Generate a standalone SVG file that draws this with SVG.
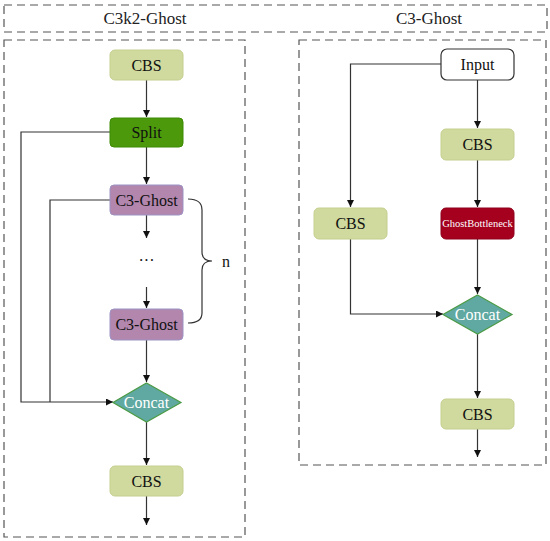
<svg xmlns="http://www.w3.org/2000/svg" width="550" height="541" viewBox="0 0 550 541" font-family="'Liberation Serif', 'Times New Roman', serif">
<style>
.frame{fill:none;stroke:#555;stroke-width:1.2;stroke-dasharray:8 5}
.title{font-size:17px;fill:#222;text-anchor:middle}
.lbl{font-size:16px;fill:#111;text-anchor:middle;dominant-baseline:central}
.wl{fill:#fff}
.cbs{fill:#d0da9e;stroke:#c4cf8e;stroke-width:1}
.split{fill:#4c9a0c;stroke:#3d8a05;stroke-width:1}
.c3{fill:#b386ae;stroke:#9b93c4;stroke-width:1}
.cat{fill:#5fa9a2;stroke:#4c9b45;stroke-width:1.2}
.gb{fill:#a6001f;stroke:#8e001a;stroke-width:1}
.inp{fill:#fff;stroke:#333;stroke-width:1.2}
.ln{fill:none;stroke:#333;stroke-width:1.2}
</style>
<defs>
<marker id="ah" viewBox="0 0 10 10" refX="10" refY="5" markerWidth="7" markerHeight="7" markerUnits="userSpaceOnUse" orient="auto">
<path d="M0,0 L10,5 L0,10 z" fill="#111"/>
</marker>
</defs>
<rect width="550" height="541" fill="#fff"/>
<g id="frames">
<rect class="frame" x="4" y="5" width="543" height="27"/>
<text class="title" x="145" y="24">C3k2-Ghost</text>
<text class="title" x="429" y="24">C3-Ghost</text>
<rect class="frame" x="4" y="40" width="241" height="497"/>
<rect class="frame" x="299" y="40" width="247" height="425"/>
</g>
<g id="connectors">
<line class="ln" x1="146.5" y1="80" x2="146.5" y2="117" marker-end="url(#ah)"/>
<line class="ln" x1="146.5" y1="147" x2="146.5" y2="184" marker-end="url(#ah)"/>
<line class="ln" x1="146.5" y1="215" x2="146.5" y2="238" marker-end="url(#ah)"/>
<line class="ln" x1="146.5" y1="287" x2="146.5" y2="308" marker-end="url(#ah)"/>
<line class="ln" x1="146.5" y1="340" x2="146.5" y2="382" marker-end="url(#ah)"/>
<line class="ln" x1="146.5" y1="422" x2="146.5" y2="465" marker-end="url(#ah)"/>
<line class="ln" x1="146.5" y1="496" x2="146.5" y2="525" marker-end="url(#ah)"/>
<polyline class="ln" points="110,132 21,132 21,402 113,402" marker-end="url(#ah)"/>
<polyline class="ln" points="110,200 50,200 50,402"/>
<path class="ln" d="M188,199 Q202,199 202,210 L202,252 Q202,261 212,261 Q202,261 202,270 L202,313 Q202,323 188,323"/>
<line class="ln" x1="477.5" y1="80" x2="477.5" y2="128" marker-end="url(#ah)"/>
<line class="ln" x1="477.5" y1="160" x2="477.5" y2="207" marker-end="url(#ah)"/>
<line class="ln" x1="477.5" y1="239" x2="477.5" y2="294" marker-end="url(#ah)"/>
<line class="ln" x1="477.5" y1="334" x2="477.5" y2="398" marker-end="url(#ah)"/>
<line class="ln" x1="477.5" y1="429" x2="477.5" y2="457" marker-end="url(#ah)"/>
<polyline class="ln" points="441,64 350.5,64 350.5,207" marker-end="url(#ah)"/>
<polyline class="ln" points="350.5,239 350.5,314 443,314" marker-end="url(#ah)"/>
</g>
<g id="cbs1"><rect class="cbs" x="110" y="50" width="73" height="30" rx="5"/><text class="lbl" x="146.5" y="65">CBS</text></g>
<g id="split"><rect class="split" x="110" y="118" width="73" height="29" rx="4"/><text class="lbl" x="146.5" y="132.5">Split</text></g>
<g id="c3ghost1"><rect class="c3" x="110" y="185" width="73" height="30" rx="4"/><text class="lbl" x="146.5" y="200">C3-Ghost</text></g>
<g id="dots"><text class="lbl" x="146.5" y="260">···</text></g>
<g id="c3ghost2"><rect class="c3" x="110" y="309" width="73" height="31" rx="4"/><text class="lbl" x="146.5" y="324.5">C3-Ghost</text></g>
<g id="n-label"><text class="lbl" x="226" y="261">n</text></g>
<g id="concat1"><polygon class="cat" points="146.5,383 181,402.5 146.5,422 113,402.5"/><text class="lbl wl" x="146.5" y="402.5">Concat</text></g>
<g id="cbs2"><rect class="cbs" x="110" y="466" width="73" height="30" rx="5"/><text class="lbl" x="146.5" y="481">CBS</text></g>
<g id="input"><rect class="inp" x="441" y="49" width="73" height="31" rx="6"/><text class="lbl" x="477.5" y="64.5">Input</text></g>
<g id="cbs3"><rect class="cbs" x="441" y="129" width="73" height="31" rx="5"/><text class="lbl" x="477.5" y="144.5">CBS</text></g>
<g id="ghostbottleneck"><rect class="gb" x="441" y="208" width="73" height="31" rx="5"/><text class="lbl wl" x="477.5" y="223.5" style="font-size:10.5px">GhostBottleneck</text></g>
<g id="cbs4"><rect class="cbs" x="314" y="208" width="73" height="31" rx="5"/><text class="lbl" x="350.5" y="223.5">CBS</text></g>
<g id="concat2"><polygon class="cat" points="477.5,295 512,314.5 477.5,334 443,314.5"/><text class="lbl wl" x="477.5" y="314.5">Concat</text></g>
<g id="cbs5"><rect class="cbs" x="441" y="399" width="73" height="30" rx="5"/><text class="lbl" x="477.5" y="414">CBS</text></g>
</svg>
